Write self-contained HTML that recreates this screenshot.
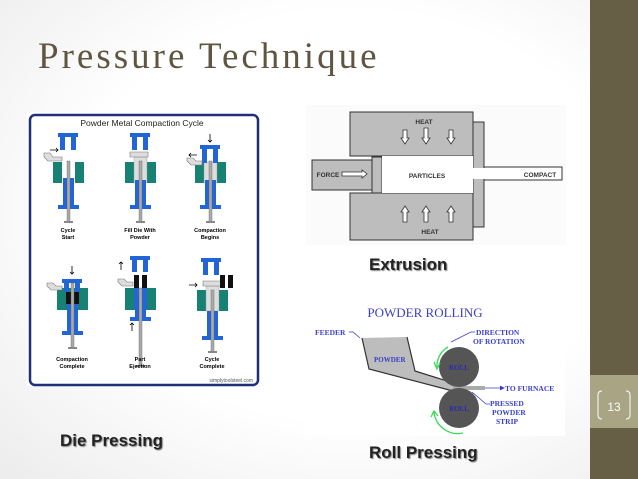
<!DOCTYPE html>
<html><head><meta charset="utf-8"><style>
html,body{margin:0;padding:0}
body{width:638px;height:479px;overflow:hidden;position:relative;background:radial-gradient(ellipse at 55% 45%,#ffffff 55%,#ececec 100%);font-family:"Liberation Sans",sans-serif}
.side{position:absolute;left:590px;top:0;width:48px;height:479px;background:#675e46}
.band{position:absolute;left:590px;top:375px;width:48px;height:53px;background:#a9a483}
.title{position:absolute;left:38px;top:38px;line-height:1;font-family:"Liberation Serif",serif;font-size:37px;color:#5f5641;letter-spacing:3px;white-space:nowrap}
.cap{position:absolute;font-weight:bold;font-size:17px;color:#222;text-shadow:1px 1px 1px #888}
</style></head><body>
<div class="side"></div><div class="band"></div>
<div class="title">Pressure Technique</div>
<svg width="638" height="479" style="position:absolute;left:0;top:0">
<path d="M602,391 q-4,0 -4,4 v20 q0,4 4,4" fill="none" stroke="#fff" stroke-width="1"/>
<path d="M626,391 q4,0 4,4 v20 q0,4 -4,4" fill="none" stroke="#fff" stroke-width="1"/>
<text x="614" y="411" font-size="12" fill="#fff" text-anchor="middle">13</text>

<rect x="27" y="112" width="231" height="274" fill="#fff"/>
<rect x="30" y="115" width="228" height="270" rx="5" fill="#fff" stroke="#1f2f7a" stroke-width="2.5"/>
<text x="142" y="126" font-size="8.5" fill="#222" text-anchor="middle">Powder Metal Compaction Cycle</text>

<g>
<rect x="53" y="162" width="31" height="21" fill="#178274"/>
<rect x="62" y="162" width="13" height="21" fill="#fff"/>
<rect x="63" y="178" width="11" height="30" fill="#2266d6"/>
<rect x="58" y="205" width="21" height="4" fill="#2266d6"/>
<rect x="67" y="161" width="3" height="61" fill="#aaa" stroke="#666" stroke-width="0.4"/>
<rect x="64" y="221" width="9" height="2" fill="#888"/>
<rect x="58" y="133" width="20" height="4" fill="#2266d6"/>
<rect x="60" y="137" width="5" height="13" fill="#2266d6"/><rect x="71" y="137" width="5" height="13" fill="#2266d6"/>
<path d="M44,153 h6 l3,4 h9 v4 h-14 l-4,-4z" fill="#ddd" stroke="#777" stroke-width="0.6"/>
<path d="M50,150 h8 m-2,-2 l2,2 -2,2" stroke="#000" fill="none" stroke-width="0.8"/>
<text x="68" y="232" font-size="5.5" font-weight="bold" text-anchor="middle">Cycle</text>
<text x="68" y="239" font-size="5.5" font-weight="bold" text-anchor="middle">Start</text>
</g>

<g>
<rect x="125" y="162" width="31" height="21" fill="#178274"/>
<rect x="134" y="157" width="13" height="26" fill="#ddd" stroke="#999" stroke-width="0.4"/>
<rect x="135" y="180" width="11" height="28" fill="#2266d6"/>
<rect x="130" y="205" width="21" height="4" fill="#2266d6"/>
<rect x="139" y="161" width="3" height="61" fill="#aaa" stroke="#666" stroke-width="0.4"/>
<rect x="136" y="221" width="9" height="2" fill="#888"/>
<rect x="130" y="133" width="20" height="4" fill="#2266d6"/>
<rect x="132" y="137" width="5" height="13" fill="#2266d6"/><rect x="143" y="137" width="5" height="13" fill="#2266d6"/>
<path d="M130,152 h18 v5 h-18z" fill="#ddd" stroke="#777" stroke-width="0.6"/>
<text x="140" y="232" font-size="5.5" font-weight="bold" text-anchor="middle">Fill Die With</text>
<text x="140" y="239" font-size="5.5" font-weight="bold" text-anchor="middle">Powder</text>
</g>

<g>
<rect x="195" y="162" width="31" height="21" fill="#178274"/>
<rect x="204" y="162" width="13" height="21" fill="#ddd" stroke="#999" stroke-width="0.4"/>
<rect x="205" y="180" width="11" height="28" fill="#2266d6"/>
<rect x="200" y="205" width="21" height="4" fill="#2266d6"/>
<rect x="209" y="161" width="3" height="61" fill="#aaa" stroke="#666" stroke-width="0.4"/>
<rect x="206" y="221" width="9" height="2" fill="#888"/>
<rect x="200" y="145" width="20" height="4" fill="#2266d6"/>
<rect x="202" y="149" width="5" height="14" fill="#2266d6"/><rect x="213" y="149" width="5" height="14" fill="#2266d6"/>
<path d="M187,158 h6 l3,3 h6 v4 h-11 l-4,-4z" fill="#ddd" stroke="#777" stroke-width="0.6"/>
<path d="M197,155 h-8 m2,-2 l-2,2 2,2" stroke="#000" fill="none" stroke-width="0.8"/>
<path d="M210,134 v8 m-2,-2 l2,2 2,-2" stroke="#000" fill="none" stroke-width="0.8"/>
<text x="210" y="232" font-size="5.5" font-weight="bold" text-anchor="middle">Compaction</text>
<text x="210" y="239" font-size="5.5" font-weight="bold" text-anchor="middle">Begins</text>
</g>

<g>
<rect x="57" y="288" width="31" height="22" fill="#178274"/>
<rect x="66" y="292" width="13" height="12" fill="#111"/>
<rect x="67" y="304" width="11" height="30" fill="#2266d6"/>
<rect x="62" y="331" width="21" height="4" fill="#2266d6"/>
<rect x="62" y="279" width="20" height="4" fill="#2266d6"/>
<rect x="64" y="283" width="5" height="9" fill="#2266d6"/><rect x="75" y="283" width="5" height="9" fill="#2266d6"/>
<rect x="71" y="283" width="3" height="65" fill="#aaa" stroke="#666" stroke-width="0.4"/>
<rect x="68" y="347" width="9" height="2" fill="#888"/>
<path d="M47,283 h6 l3,3 h6 v4 h-11 l-4,-4z" fill="#ddd" stroke="#777" stroke-width="0.6"/>
<path d="M72,266 v8 m-2,-2 l2,2 2,-2" stroke="#000" fill="none" stroke-width="0.8"/>
<text x="72" y="361" font-size="5.5" font-weight="bold" text-anchor="middle">Compaction</text>
<text x="72" y="368" font-size="5.5" font-weight="bold" text-anchor="middle">Complete</text>
</g>

<g>
<rect x="125" y="288" width="31" height="22" fill="#178274"/>
<rect x="134" y="288" width="13" height="22" fill="#2266d6"/>
<rect x="135" y="310" width="11" height="10" fill="#2266d6"/>
<rect x="130" y="317" width="21" height="4" fill="#2266d6"/>
<rect x="134" y="275" width="13" height="13" fill="#111"/>
<rect x="139" y="275" width="3" height="13" fill="#fff"/>
<rect x="130" y="256" width="20" height="4" fill="#2266d6"/>
<rect x="132" y="260" width="5" height="12" fill="#2266d6"/><rect x="143" y="260" width="5" height="12" fill="#2266d6"/>
<rect x="139" y="288" width="3" height="78" fill="#aaa" stroke="#666" stroke-width="0.4"/>
<rect x="136" y="365" width="9" height="2" fill="#888"/>
<path d="M118,279 h6 l3,3 h6 v4 h-11 l-4,-4z" fill="#ddd" stroke="#777" stroke-width="0.6"/>
<path d="M121,270 v-8 m-2,2 l2,-2 2,2 M132,331 v-8 m-2,2 l2,-2 2,2" stroke="#000" fill="none" stroke-width="0.8"/>
<text x="140" y="361" font-size="5.5" font-weight="bold" text-anchor="middle">Part</text>
<text x="140" y="368" font-size="5.5" font-weight="bold" text-anchor="middle">Ejection</text>
</g>

<g>
<rect x="197" y="290" width="31" height="21" fill="#178274"/>
<rect x="206" y="286" width="13" height="25" fill="#ddd" stroke="#999" stroke-width="0.4"/>
<rect x="207" y="311" width="11" height="28" fill="#2266d6"/>
<rect x="202" y="336" width="21" height="4" fill="#2266d6"/>
<rect x="211" y="290" width="3" height="62" fill="#aaa" stroke="#666" stroke-width="0.4"/>
<rect x="208" y="351" width="9" height="2" fill="#888"/>
<rect x="201" y="258" width="20" height="4" fill="#2266d6"/>
<rect x="203" y="262" width="5" height="13" fill="#2266d6"/><rect x="214" y="262" width="5" height="13" fill="#2266d6"/>
<path d="M203,281 h18 v5 h-18z" fill="#ddd" stroke="#777" stroke-width="0.6"/>
<rect x="220" y="275" width="13" height="13" fill="#111"/><rect x="225" y="275" width="3" height="13" fill="#fff"/>
<path d="M189,285 h8 m-2,-2 l2,2 -2,2" stroke="#000" fill="none" stroke-width="0.8"/>
<text x="212" y="361" font-size="5.5" font-weight="bold" text-anchor="middle">Cycle</text>
<text x="212" y="368" font-size="5.5" font-weight="bold" text-anchor="middle">Complete</text>
</g>
<text x="253" y="382" font-size="5" fill="#555" text-anchor="end">simplytoolsteel.com</text>

<rect x="306" y="105" width="260" height="140" fill="#fbfbfb"/>
<g stroke="#333" stroke-width="1" fill="#bdbdbd">
<rect x="473" y="122" width="11" height="105"/>
<rect x="350" y="112" width="123" height="44"/>
<rect x="350" y="193" width="123" height="47"/>
<rect x="312" y="160" width="60" height="30"/>
<rect x="372" y="157" width="10" height="36"/>
<rect x="382" y="156" width="91" height="37" fill="#fff" stroke="none"/>
<rect x="484" y="167" width="78" height="13" fill="#fff"/>
</g>
<rect x="473" y="168" width="12" height="11" fill="#fff"/>
<g font-size="6.5" fill="#333" text-anchor="middle" font-weight="bold">
<text x="424" y="124">HEAT</text><text x="430" y="234">HEAT</text>
<text x="427" y="178">PARTICLES</text><text x="540" y="177">COMPACT</text>
<text x="328" y="177">FORCE</text></g>
<g fill="#fff" stroke="#333" stroke-width="0.8">
<path d="M342,172 h20 v-2 l5,4 -5,4 v-2 h-20z"/>
<path d="M403,130 h4 v8 h2 l-4,6 -4,-6 h2z"/><path d="M424,128 h4 v10 h2 l-4,6 -4,-6 h2z"/><path d="M449,130 h4 v8 h2 l-4,6 -4,-6 h2z"/>
<path d="M403,222 h4 v-10 h2 l-4,-6 -4,6 h2z"/><path d="M424,222 h4 v-10 h2 l-4,-6 -4,6 h2z"/><path d="M449,222 h4 v-10 h2 l-4,-6 -4,6 h2z"/>
</g>

<rect x="305" y="288" width="260" height="148" fill="#fff"/>
<text x="425" y="317" font-family="Liberation Serif,serif" font-size="13" fill="#3a3fc8" text-anchor="middle">POWDER ROLLING</text>
<path d="M362,338 L369,369 L453,391 L453,384 L415,371 L407,337" fill="#bdbdbd" stroke="none"/>
<path d="M362,338 L369,369 L453,391 M407,337 L415,371 L450,382" fill="none" stroke="#333" stroke-width="1.2"/>
<rect x="453" y="386" width="32" height="4" fill="#aaa"/>
<circle cx="459" cy="367" r="20" fill="#555"/>
<circle cx="459" cy="408" r="20" fill="#555"/>
<text x="459" y="370" font-family="Liberation Serif,serif" font-size="7" fill="#2b2bb0" text-anchor="middle" font-weight="bold">ROLL</text>
<text x="459" y="411" font-family="Liberation Serif,serif" font-size="7" fill="#2b2bb0" text-anchor="middle" font-weight="bold">ROLL</text>
<text x="374" y="362" font-family="Liberation Serif,serif" font-size="7" fill="#3a3fc8" font-weight="bold">POWDER</text>
<path d="M448,347 A22,22 0 0 0 437,368" stroke="#33dd55" stroke-width="1.3" fill="none"/>
<path d="M434,362 l3,7 3,-6" stroke="#33dd55" stroke-width="1.3" fill="none"/>
<path d="M463,433 A24,24 0 0 1 434,412" stroke="#33dd55" stroke-width="1.3" fill="none"/>
<path d="M431,417 l3,-6 4,5" stroke="#33dd55" stroke-width="1.3" fill="none"/>
<g stroke="#3a3fc8" stroke-width="0.8" fill="none">
<path d="M349,332 h4 l7,6"/><path d="M475,332 h-4 l-20,10"/><path d="M485,388 h18"/><path d="M500,386 l4,2 -4,2" fill="#3a3fc8"/>
<path d="M490,404 h-4 l-14,-12"/></g>
<g font-family="Liberation Serif,serif" font-size="7.5" fill="#3a3fc8" font-weight="bold">
<text x="315" y="335">FEEDER</text>
<text x="476" y="335">DIRECTION</text><text x="473" y="344">OF ROTATION</text>
<text x="505" y="391">TO FURNACE</text>
<text x="490" y="406">PRESSED</text><text x="492" y="415">POWDER</text><text x="496" y="424">STRIP</text>
</g>
</svg>
<div class="cap" style="left:60px;top:431px">Die Pressing</div>
<div class="cap" style="left:369px;top:255px">Extrusion</div>
<div class="cap" style="left:369px;top:443px">Roll Pressing</div>
</body></html>
